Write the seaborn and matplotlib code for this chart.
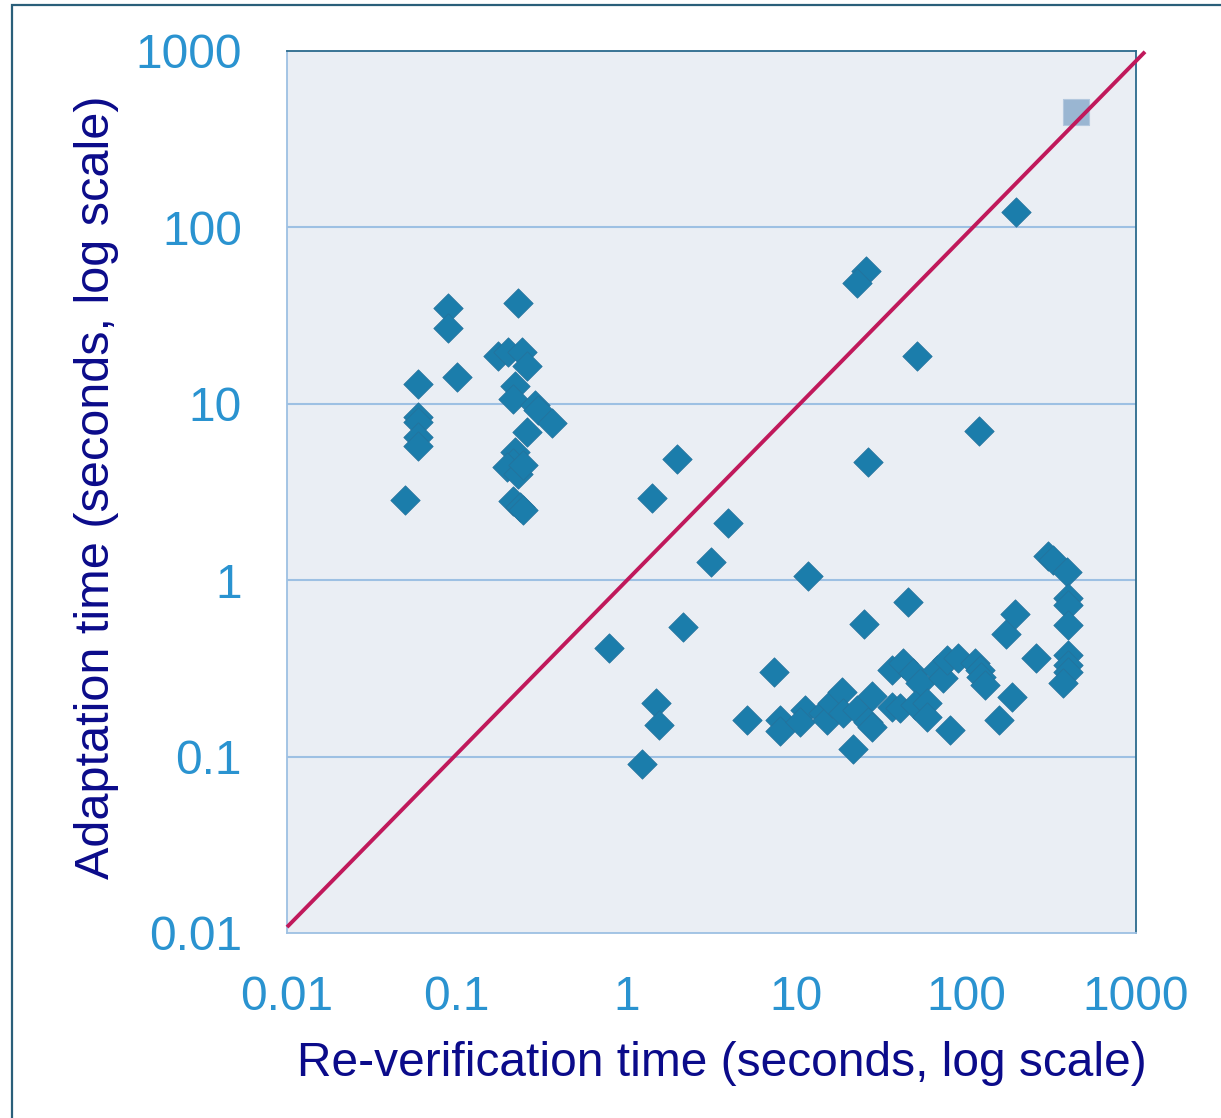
import numpy as np
import pandas as pd
import matplotlib
matplotlib.use("Agg")
import matplotlib.pyplot as plt
import matplotlib.patches as mpatches
from matplotlib.ticker import FixedLocator, FixedFormatter, NullLocator
import seaborn as sns

# ---- data ----
reverify_x = [
    0.0496, 0.059, 0.059, 0.059, 0.059, 0.059, 0.089, 0.089, 0.0998, 0.175,
    0.201, 0.241, 0.258, 0.230, 0.220, 0.215, 0.289, 0.302, 0.362, 0.258,
    0.220, 0.215, 0.197, 0.230, 0.247, 0.215, 0.235, 0.247,
    1.99, 1.42, 3.94, 3.13, 2.14, 0.786, 1.48, 1.55, 1.23, 5.1,
    11.7, 45.2, 25.1, 7.41, 8.0, 8.0, 11.2, 10.5, 14.4, 15.1,
    16.1, 18.5, 18.9, 22.6, 26.5, 27.8, 21.6, 27.8, 36.7, 42.6,
    36.7, 40.7, 48.8, 53.5, 49.9, 58.5, 58.5, 67.0, 73.3, 76.7,
    80.3, 89.8, 113, 120, 123, 129, 155, 185, 171, 194,
    258, 305, 325, 391, 399, 399, 399, 399, 399, 399, 373,
    196, 25.7, 22.6, 51.1, 119, 26.3,
]
adapt_y = [
    2.85, 12.9, 8.45, 7.9, 6.5, 5.8, 34.7, 26.8, 14.2, 18.7,
    19.7, 19.7, 16.4, 37.1, 12.6, 10.7, 9.8, 9.2, 7.8, 6.95,
    5.35, 4.6, 4.4, 4.0, 4.5, 2.8, 2.6, 2.5,
    4.84, 2.91, 2.10, 1.26, 0.541, 0.411, 0.200, 0.151, 0.0904, 0.161,
    1.06, 0.749, 0.562, 0.303, 0.161, 0.140, 0.184, 0.158, 0.176, 0.161,
    0.200, 0.233, 0.176, 0.184, 0.158, 0.148, 0.110, 0.221, 0.310, 0.338,
    0.192, 0.189, 0.297, 0.260, 0.196, 0.200, 0.168, 0.310, 0.278, 0.353,
    0.142, 0.360, 0.338, 0.310, 0.284, 0.255, 0.161, 0.218, 0.495, 0.643,
    0.360, 1.37, 1.30, 1.12, 0.789, 0.723, 0.557, 0.377, 0.330, 0.303, 0.260,
    123, 56.9, 48.6, 18.7, 7.04, 4.70,
]
square_x = [443]
square_y = [451]
diag_x = [0.01, 1130]
diag_y = [0.0108, 990]

tick_vals = [0.01, 0.1, 1, 10, 100, 1000]
tick_labels = ["0.01", "0.1", "1", "10", "100", "1000"]

# ---- style ----
sns.set_style("white")
plt.rcParams["font.family"] = ["Liberation Sans", "DejaVu Sans"]

LIGHT = "#9dc0e3"
DARK = "#2b6a8c"
TICKC = "#2a93d0"
LABELC = "#0b0b8a"

fig = plt.figure(figsize=(12.21, 11.18), dpi=100)
ax = fig.add_axes([287 / 1221, 1 - 933 / 1118, (1136 - 287) / 1221, (933 - 51) / 1118])
ax.set_facecolor("#eaeef4")

df = pd.DataFrame({"x": reverify_x, "y": adapt_y})
sns.scatterplot(data=df, x="x", y="y", marker="D", s=225, color="#1b7dab",
                edgecolor="#25729c", linewidth=0.5, ax=ax, zorder=3)
sq = pd.DataFrame({"x": square_x, "y": square_y})
sns.scatterplot(data=sq, x="x", y="y", marker="s", s=370, color="#9ab6d2",
                edgecolor="#b3c8de", linewidth=0.8, ax=ax, zorder=3)
ax.plot(diag_x, diag_y, color="#c0195b", lw=2.8, zorder=4, clip_on=False,
        solid_capstyle="butt")

ax.set_xscale("log")
ax.set_yscale("log")
ax.set_xlim(0.01, 1000)
ax.set_ylim(0.01, 1000)
for a in (ax.xaxis, ax.yaxis):
    a.set_major_locator(FixedLocator(tick_vals))
    a.set_major_formatter(FixedFormatter(tick_labels))
    a.set_minor_locator(NullLocator())

ax.grid(False)
for v in tick_vals[1:-1]:
    ax.axhline(v, color=LIGHT, lw=1.5, zorder=1)

ax.spines["left"].set_color(LIGHT)
ax.spines["bottom"].set_color(LIGHT)
ax.spines["top"].set_color(DARK)
ax.spines["right"].set_color(DARK)
for s in ax.spines.values():
    s.set_linewidth(1.3)

ax.tick_params(axis="both", which="major", direction="out", length=10.5,
               width=1.3, color=LIGHT, labelsize=34.5, labelcolor=TICKC)
ax.tick_params(axis="x", pad=20)
ax.tick_params(axis="y", pad=22)

ax.set_xlabel("Re-verification time (seconds, log scale)", fontsize=34.5,
              color=LABELC, labelpad=14.5)
ax.set_ylabel("Adaptation time (seconds, log scale)", fontsize=35,
              color=LABELC, labelpad=12)
ax.xaxis.label.set_x(0.5 + 10 / 849)
ax.yaxis.label.set_y(0.5 + 5 / 882)

# outer frame
frame = mpatches.Rectangle((12 / 1221, -0.05), 1.2, 1 - 5 / 1118 + 0.05,
                           transform=fig.transFigure, fill=False,
                           edgecolor="#2a5f7a", lw=1.6, clip_on=False)
fig.patches.append(frame)

fig.savefig("out.png", dpi=100)
